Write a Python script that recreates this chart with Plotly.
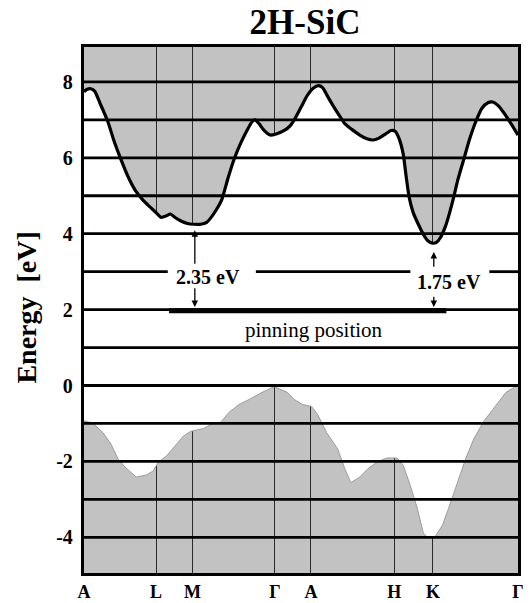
import plotly.graph_objects as go

# ---- data ----
kpt_pos = [0.0, 0.166, 0.250, 0.440, 0.523, 0.715, 0.804, 1.0]
kpt_labels = ["A", "L", "M", "Γ", "A", "H", "K", "Γ"]

cb_k = [0.0, 0.0063, 0.0156, 0.0249, 0.0365, 0.0551, 0.0690, 0.0853, 0.1016, 0.1178,
        0.1364, 0.1526, 0.1666, 0.1782, 0.1898, 0.1991, 0.2107, 0.2246, 0.2385, 0.2525,
        0.2687, 0.2827, 0.2943, 0.3059, 0.3175, 0.3314, 0.3454, 0.3616, 0.3755, 0.3872,
        0.3941, 0.4034, 0.4150, 0.4290, 0.4429, 0.4615, 0.4754, 0.4870, 0.5009, 0.5149,
        0.5288, 0.5404, 0.5497, 0.5613, 0.5752, 0.5892, 0.6008, 0.6170, 0.6356, 0.6519,
        0.6658, 0.6797, 0.6937, 0.7076, 0.7169, 0.7262, 0.7355, 0.7424, 0.7494, 0.7587,
        0.7703, 0.7819, 0.7935, 0.8028, 0.8121, 0.8214, 0.8330, 0.8423, 0.8516, 0.8609,
        0.8748, 0.8887, 0.9026, 0.9166, 0.9305, 0.9421, 0.9537, 0.9677, 0.9839, 1.0]
cb_E = [7.74, 7.80, 7.82, 7.75, 7.45, 6.95, 6.45, 5.95, 5.50, 5.15,
        4.88, 4.70, 4.55, 4.43, 4.47, 4.52, 4.42, 4.33, 4.27, 4.25,
        4.25, 4.30, 4.45, 4.65, 4.90, 5.45, 5.95, 6.40, 6.72, 6.95,
        7.00, 6.90, 6.72, 6.60, 6.63, 6.72, 6.85, 7.05, 7.35, 7.65,
        7.84, 7.90, 7.85, 7.62, 7.35, 7.10, 6.90, 6.75, 6.60, 6.50,
        6.47, 6.52, 6.62, 6.72, 6.70, 6.50, 6.10, 5.50, 4.95, 4.55,
        4.25, 3.98, 3.80, 3.75, 3.77, 3.90, 4.20, 4.55, 4.95, 5.40,
        5.95, 6.50, 6.95, 7.30, 7.45, 7.47, 7.38, 7.18, 6.90, 6.60]

vb_k = [0.0, 0.0203, 0.0435, 0.0621, 0.0783, 0.0946, 0.1201, 0.1433, 0.1596, 0.1712,
        0.1898, 0.2107, 0.2293, 0.2455, 0.2757, 0.2989, 0.3152, 0.3338, 0.3570, 0.3802,
        0.4104, 0.4382, 0.4684, 0.4847, 0.5033, 0.5242, 0.5381, 0.5590, 0.5845, 0.6008,
        0.6147, 0.6356, 0.6542, 0.6774, 0.6983, 0.7215, 0.7355, 0.7517, 0.7680, 0.7819,
        0.7935, 0.8098, 0.8260, 0.8399, 0.8609, 0.8794, 0.8980, 0.9212, 0.9421, 0.9607,
        0.9723, 0.9909, 1.0]
vb_E = [-0.93, -0.99, -1.24, -1.54, -1.93, -2.15, -2.41, -2.36, -2.25, -2.02,
        -1.86, -1.59, -1.33, -1.21, -1.13, -0.99, -0.97, -0.71, -0.50, -0.37,
        -0.18, -0.03, -0.18, -0.37, -0.50, -0.55, -0.76, -1.24, -1.67, -2.19,
        -2.56, -2.41, -2.19, -2.00, -1.91, -1.91, -2.10, -2.63, -3.24, -3.89,
        -4.02, -3.97, -3.68, -3.24, -2.53, -1.93, -1.41, -0.94, -0.63, -0.37,
        -0.18, -0.05, 0.0]

grid_levels = [-4, -3, -2, -1, 0, 1, 2, 4, 5, 6, 7, 8]
split_level = 3
ytick_vals = [-4, -2, 0, 2, 4, 6, 8]
ytick_text = ["-4", "-2", "0", "2", "4", "6", "8"]

pinning_E = 1.97
pinning_k = [0.196, 0.835]
gap_left = {"k": 0.2554, "cb": 4.09, "pin": 2.07, "label": "2.35 eV"}
gap_right = {"k": 0.806, "cb": 3.52, "pin": 2.07, "label": "1.75 eV"}

GRAY = "#c2c2c2"
SERIF = "Liberation Serif"

fig = go.Figure()
fig.add_trace(go.Scatter(x=vb_k, y=vb_E, mode="lines",
                         line=dict(color="#9c9c9c", width=1), hoverinfo="skip"))
fig.add_trace(go.Scatter(x=cb_k, y=cb_E, mode="lines", fill="tonexty", fillcolor="white",
                         line=dict(color="black", width=3.2, shape="spline", smoothing=0.6),
                         hoverinfo="skip"))

shapes = []
for lv in grid_levels:
    shapes.append(dict(type="line", xref="paper", yref="y", x0=0, x1=1, y0=lv, y1=lv,
                       line=dict(color="black", width=2.8), layer="above"))
for a, b in [(0, 0.193), (0.396, 0.752), (0.934, 1.0)]:
    shapes.append(dict(type="line", xref="x", yref="y", x0=a, x1=b, y0=split_level, y1=split_level,
                       line=dict(color="black", width=2.8), layer="above"))
shapes.append(dict(type="line", xref="x", yref="y", x0=pinning_k[0], x1=pinning_k[1],
                   y0=pinning_E, y1=pinning_E, line=dict(color="black", width=5), layer="above"))

annotations = []
for g, up_start, dn_start in [(gap_left, 3.17, 2.60), (gap_right, 3.09, 2.38)]:
    annotations.append(dict(x=g["k"], y=g["cb"], ax=g["k"], ay=up_start, xref="x", yref="y",
                            axref="x", ayref="y", showarrow=True, arrowhead=2, arrowsize=1,
                            arrowwidth=1.3, arrowcolor="black", text=""))
    annotations.append(dict(x=g["k"], y=g["pin"], ax=g["k"], ay=dn_start, xref="x", yref="y",
                            axref="x", ayref="y", showarrow=True, arrowhead=2, arrowsize=1,
                            arrowwidth=1.3, arrowcolor="black", text=""))
annotations.append(dict(x=0.286, y=2.86, xref="x", yref="y", text=gap_left["label"], showarrow=False,
                        font=dict(family=SERIF, size=20, color="black", weight="bold")))
annotations.append(dict(x=0.842, y=2.73, xref="x", yref="y", text=gap_right["label"], showarrow=False,
                        font=dict(family=SERIF, size=20, color="black", weight="bold")))
annotations.append(dict(x=0.529, y=1.45, xref="x", yref="y", text="pinning position", showarrow=False,
                        font=dict(family=SERIF, size=21, color="black")))
annotations.append(dict(x=-0.132, y=0.504, xref="paper", yref="paper", text="Energy\u00a0 [eV]",
                        textangle=-90, showarrow=False, xanchor="center", yanchor="middle",
                        font=dict(family=SERIF, size=28, color="black", weight="bold")))

fig.update_layout(
    width=531, height=603,
    margin=dict(l=84, r=13, t=47, b=30),
    paper_bgcolor="white", plot_bgcolor=GRAY,
    showlegend=False,
    title=dict(text="2H-SiC", x=305 / 531, xanchor="center", y=1 - 22 / 603, yanchor="middle",
               font=dict(family=SERIF, size=35, color="black", weight="bold")),
    shapes=shapes, annotations=annotations,
)
fig.update_xaxes(range=[0, 1], tickvals=kpt_pos, ticktext=kpt_labels, automargin=False,
                 showgrid=True, gridcolor="#2a2a2a", gridwidth=1.2, zeroline=False,
                 showline=True, linecolor="black", linewidth=3.4, mirror=True, ticks="",
                 ticklabelstandoff=0,
                 tickfont=dict(family=SERIF, size=18, color="black", weight="bold"))
fig.update_yaxes(range=[-4.94, 8.92], tickvals=ytick_vals, ticktext=ytick_text, automargin=False,
                 showgrid=False, zeroline=False,
                 showline=True, linecolor="black", linewidth=3.4, mirror=True, ticks="",
                 ticklabelstandoff=4,
                 tickfont=dict(family=SERIF, size=20, color="black", weight="bold"))

fig.write_html("out.html")
